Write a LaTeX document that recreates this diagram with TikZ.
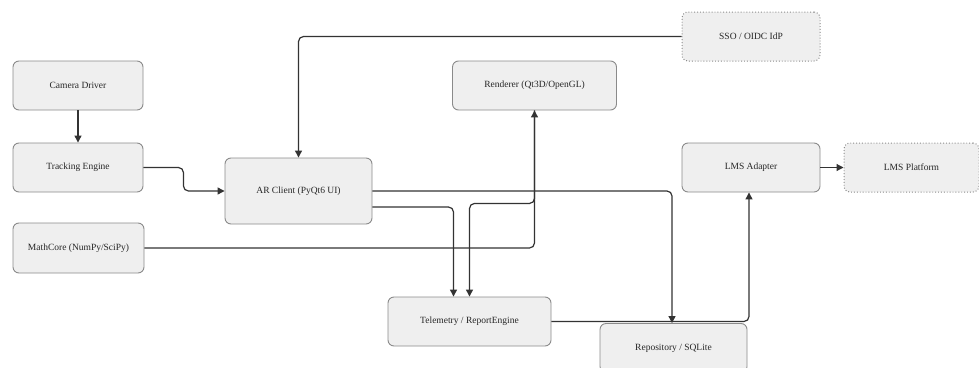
\documentclass[tikz,border=0pt]{standalone}
\usepackage{fontspec}
\setmainfont{Liberation Serif}
\usetikzlibrary{arrows.meta}
\definecolor{boxfill}{HTML}{EFEFEF}
\definecolor{boxline}{HTML}{8A8A8A}
\definecolor{wire}{HTML}{333333}
\tikzset{
  block/.style={draw=boxline, fill=boxfill, line width=0.9pt, rounded corners=6pt,
    minimum height=49pt, inner sep=2pt, font=\fontsize{9.5}{11}\selectfont, text=black!85},
  ext/.style={block, dotted, line width=1pt},
  arr/.style={draw=wire, line width=1.2pt, rounded corners=5pt,
    -{Triangle[length=7pt,width=7pt]}}
}
\begin{document}
\begin{tikzpicture}[x=1pt,y=-1pt]
\useasboundingbox (0,0) rectangle (979,367);

\node[block, minimum width=130pt] (cam) at (78,85.5) {Camera Driver};
\node[block, minimum width=130pt] (track) at (78,167.5) {Tracking Engine};
\node[block, minimum width=131pt, minimum height=50pt] (math) at (78.5,248) {MathCore (NumPy/SciPy)};
\node[block, minimum width=147pt, minimum height=66pt] (ar) at (298.5,191) {AR Client (PyQt6 UI)};
\node[block, minimum width=164pt] (rend) at (534.5,85.5) {Renderer (Qt3D/OpenGL)};
\node[ext, minimum width=138pt] (sso) at (751,36.5) {SSO / OIDC IdP};
\node[block, minimum width=138pt] (lms) at (751,167.5) {LMS Adapter};
\node[ext, minimum width=135pt] (plat) at (911.5,167.5) {LMS Platform};
\node[block, minimum width=163pt] (tele) at (469.5,321.5) {Telemetry / ReportEngine};
\node[block, minimum width=147pt] (repo) at (673.5,348) {Repository / SQLite};

% data flow between components
\draw[arr] (cam) -- (track);
\draw[arr] (track.east) -- ++(40,0) |- (ar.west);
\draw[arr] (sso.west) -| (ar.north);
\draw[arr] (math.east) -| (rend.south);
\draw[arr] (rend.south) -- ++(0,93) -| (tele.north);
\draw[arr] ([yshift=-16pt]ar.east) -| ([xshift=-16pt]tele.north);
\draw[arr] (ar.east) -| ([xshift=-1.5pt]repo.north);
\draw[arr] (tele.east) -| ([xshift=-2pt]lms.south);
\draw[arr] (lms) -- (plat);
\end{tikzpicture}
\end{document}
